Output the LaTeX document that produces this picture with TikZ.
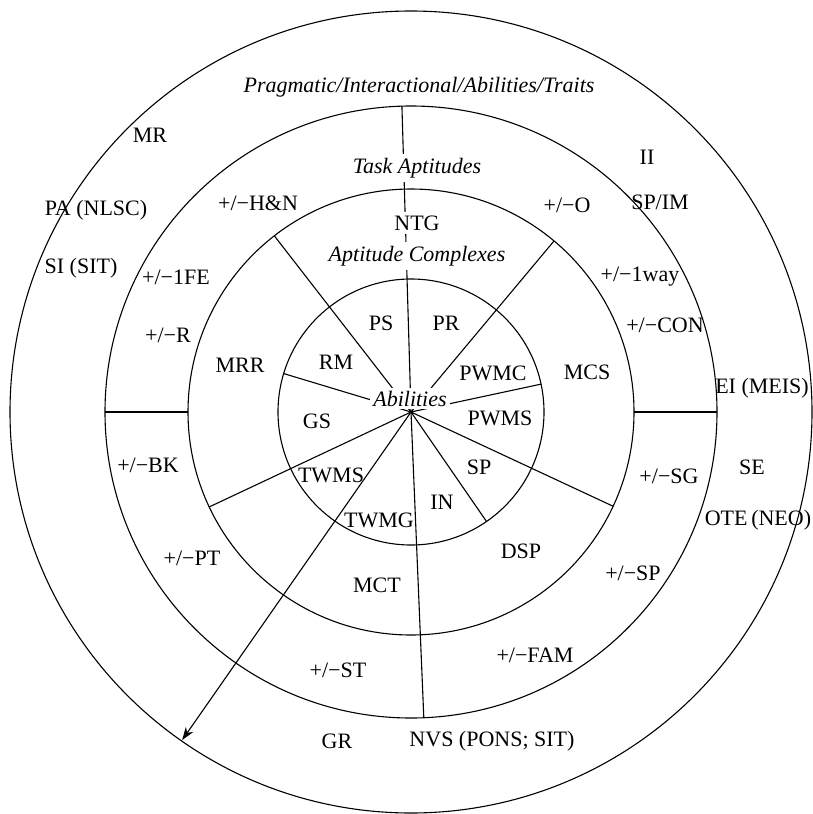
\documentclass[tikz,border=0pt]{standalone}
\usepackage{fontspec}
\setmainfont{Liberation Serif}
\usetikzlibrary{arrows.meta}
\begin{document}
\begin{tikzpicture}[x=1pt,y=-1pt,
  lbl/.style={font=\fontsize{22}{26}\selectfont, inner sep=0pt},
  ital/.style={font=\fontsize{22}{26}\selectfont\itshape, inner sep=0pt},
  mask/.style={fill=white, inner sep=4pt},
  ring/.style={line width=1.1pt},
  ray/.style={line width=1.1pt}]
\useasboundingbox (0,0) rectangle (813,814);
\coordinate (C) at (411,412);
\begin{scope}[shift={(C)}, x=1pt, y=1pt]
  % rings
  \draw[ring] (0,0) circle[radius=401];
  \draw[ring] (0,0) circle[radius=306];
  \draw[ring] (0,0) circle[radius=223];
  \draw[ring] (0,0) circle[radius=133];
  % ray end points
  \coordinate (eTop) at (91.7:306);
  \coordinate (eUL) at (127.8:223);
  \coordinate (eUR) at (50.1:223);
  \coordinate (eR) at (12.1:133);
  \coordinate (eL) at (163.2:133);
  \coordinate (eLL) at (205.2:223);
  \coordinate (eArr) at (235.1:400);
  \coordinate (eDown) at (272.4:306);
  \coordinate (eIN) at (304.6:133);
  \coordinate (eLR) at (335:223);
  \coordinate (hLa) at (180:223);
  \coordinate (hLb) at (180:306);
  \coordinate (hRa) at (0:223);
  \coordinate (hRb) at (0:306);
\end{scope}
% rays
\draw[ray] (C) -- (eTop);
\draw[ray] (C) -- (eUL);
\draw[ray] (C) -- (eUR);
\draw[ray] (C) -- (eR);
\draw[ray] (C) -- (eL);
\draw[ray] (C) -- (eLL);
\draw[ray] (C) -- (eDown);
\draw[ray] (C) -- (eIN);
\draw[ray] (C) -- (eLR);
\draw[ray] (hLa) -- (hLb);
\draw[ray] (hRa) -- (hRb);
\draw[ray, -{Stealth[length=13pt, width=9pt]}] (C) -- (eArr);
% outer ring labels
\node[ital] (title) at (419,87) {Pragmatic/Interactional/Abilities/Traits};
\node[lbl] (mr) at (150,135) {MR};
\node[lbl] (pa) at (96,210) {PA (NLSC)};
\node[lbl] (si) at (81,268) {SI (SIT)};
\node[lbl] (ii) at (647,157) {II};
\node[lbl] (spim) at (660,202) {SP/IM};
\node[lbl] (ei) at (762,388) {EI (MEIS)};
\node[lbl] (se) at (752,467) {SE};
\node[lbl] (ote) at (758,520) {OTE\,(NEO)};
\node[lbl] (gr) at (337,741) {GR};
\node[lbl] (nvs) at (492,741) {NVS (PONS; SIT)};
% second ring labels
\node[ital, mask] (task) at (417,168) {Task Aptitudes};
\node[lbl] (hn) at (258,203) {+/−H\&N};
\node[lbl] (fe) at (176,277) {+/−1FE};
\node[lbl] (r) at (168,335) {+/−R};
\node[lbl] (bk) at (148,465) {+/−BK};
\node[lbl] (pt) at (192,558) {+/−PT};
\node[lbl] (st) at (338,670) {+/−ST};
\node[lbl] (fam) at (535,655) {+/−FAM};
\node[lbl] (spp) at (633,573) {+/−SP};
\node[lbl] (sg) at (669,476) {+/−SG};
\node[lbl] (con) at (665,325) {+/−CON};
\node[lbl] (way) at (640,277) {+/−1way};
\node[lbl] (o) at (567,205) {+/−O};
% third ring labels
\node[lbl, mask] (ntg) at (417,223) {NTG};
\node[ital, mask] (apc) at (417,256) {Aptitude Complexes};
\node[lbl] (mrr) at (240,365) {MRR};
\node[lbl] (mcs) at (587,372) {MCS};
\node[lbl] (dsp) at (521,551) {DSP};
\node[lbl] (mct) at (377,585) {MCT};
% inner labels
\node[lbl] (ps) at (381,323) {PS};
\node[lbl] (pr) at (446,323) {PR};
\node[lbl] (rm) at (336,362) {RM};
\node[lbl] (pwmc) at (493,373) {PWMC};
\node[lbl] (gs) at (317,421) {GS};
\node[lbl] (pwms) at (500,418) {PWMS};
\node[lbl] (sp) at (479,467) {SP};
\node[lbl] (twms) at (331,475) {TWMS};
\node[lbl] (in) at (442,502) {IN};
\node[lbl] (twmg) at (379,520) {TWMG};
\node[ital, fill=white, inner sep=3pt, anchor=base] (abil) at (410,406) {Abilities};
\end{tikzpicture}
\end{document}
